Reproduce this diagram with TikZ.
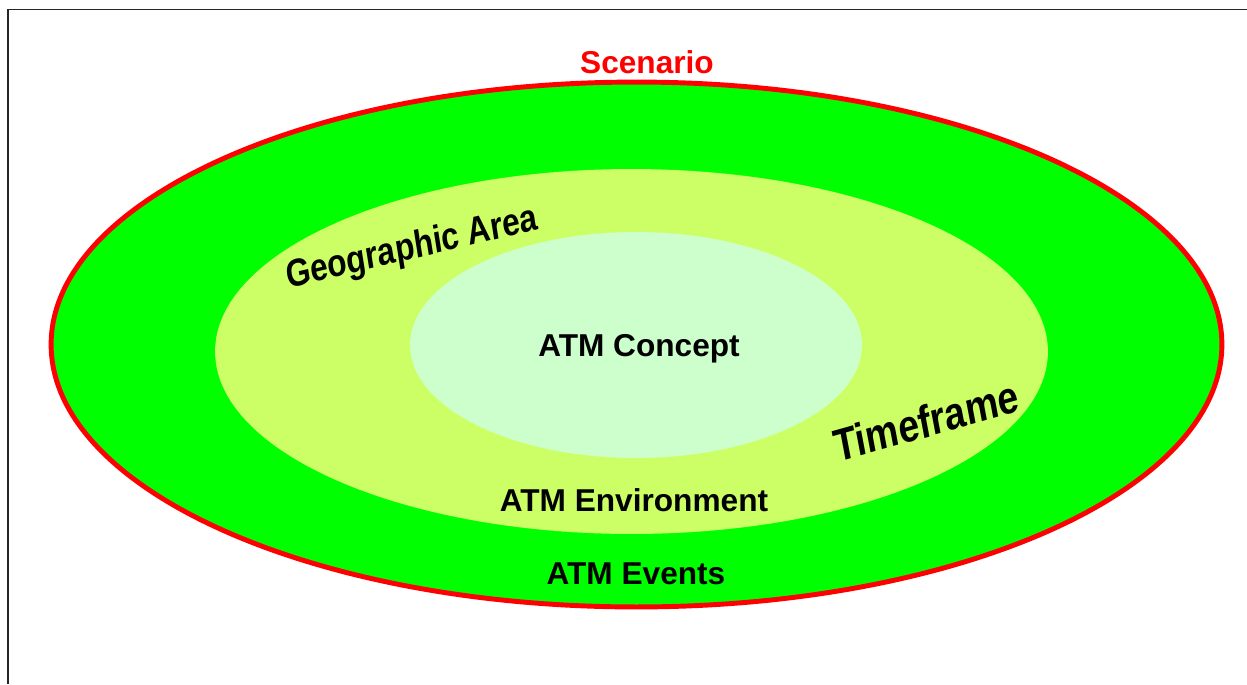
\documentclass[tikz,border=0pt]{standalone}
\usepackage{fontspec}
\setmainfont{Liberation Sans}
\usepackage {tikz}
\definecolor {eventgreen}{HTML}{00FF00}
\definecolor {envgreen}{HTML}{CCFF66}
\definecolor {conceptgreen}{HTML}{CCFFCC}
\definecolor {scenred}{HTML}{FF0000}

\begin{document}
\begin{tikzpicture}
			[x=0.02cm,y=-0.02cm, every node/.style={font=\bfseries\fontsize{18}{20}\selectfont},
			 warped/.style={font=\bfseries\fontsize{22}{24}\selectfont, xscale=0.82}]
			\useasboundingbox (0,0) rectangle (1247,684);
			% frame, only left and top edges show
			\draw[line width=1.1pt, black!85] (8,684) -- (8,9.5) -- (1247,9.5);
			
			% scenario ellipses
			\filldraw[fill=eventgreen, draw=scenred, line width=2.8pt] (636.5,344.5) ellipse [x radius=11.71cm, y radius=5.25cm];
			\fill[envgreen] (631.5,351.5) ellipse [x radius=8.33cm, y radius=3.65cm];
			\fill[conceptgreen] (636,345) ellipse [x radius=4.52cm, y radius=2.26cm];
			
			\node[text=scenred] (scenario) at (647,62) {Scenario};
			\node (concept) at (639,349) {ATM Concept};
			\node (environment) at (634,500) {ATM Environment};
			\node (events) at (636,574) {ATM Events};
			\node[warped, rotate=11] (area) at (412,249) {Geographic Area};
			\node[warped, font=\bfseries\fontsize{26}{28}\selectfont, rotate=13] (timeframe) at (926,421) {Timeframe};
			\end{tikzpicture}
\end{document}
